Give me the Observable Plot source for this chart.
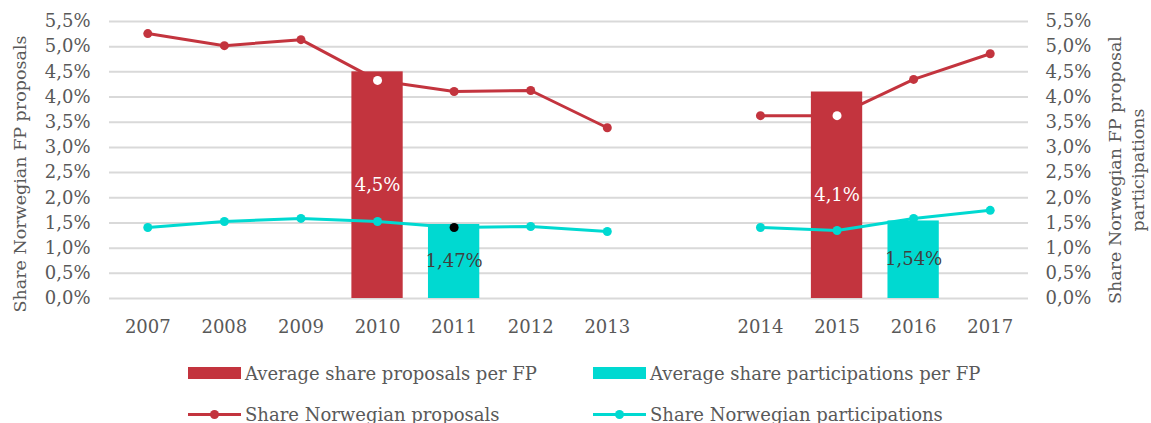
<!DOCTYPE html>
<html>
<head>
<meta charset="utf-8">
<script src="https://cdn.jsdelivr.net/npm/d3@7"></script>
<script src="https://cdn.jsdelivr.net/npm/@observablehq/plot@0.6"></script>
<style>
  html, body { margin: 0; padding: 0; background: #fff; }
  #wrap { position: relative; width: 1151px; height: 423px; overflow: hidden; font-family: "DejaVu Serif", serif; }
  #chart { position: absolute; left: 0; top: 0; }
  .lg { position: absolute; height: 24px; display: flex; align-items: center; color: #595959; font-size: 18px; white-space: nowrap; }
  .sw { position: absolute; }
</style>
</head>
<body>
<div id="wrap">
  <div id="chart"></div>
</div>
<script>
// ---- data ----
const slots = ["2007","2008","2009","2010","2011","2012","2013"," ","2014","2015","2016","2017"];
const years = ["2007","2008","2009","2010","2011","2012","2013","2014","2015","2016","2017"];
const period = [1,1,1,1,1,1,1,2,2,2,2];
const shareProposals =      [5.26, 5.02, 5.14, 4.33, 4.11, 4.13, 3.39, 3.63, 3.63, 4.35, 4.86];
const shareParticipations = [1.41, 1.53, 1.59, 1.53, 1.41, 1.43, 1.33, 1.41, 1.35, 1.59, 1.75];
const barYears =  ["2010", "2011", "2015", "2016"];
const barSeries = ["prop", "part", "prop", "part"];
const barValues = [4.5, 1.47, 4.1, 1.54];
const barLabels = ["4,5%", "1,47%", "4,1%", "1,54%"];
const yTicks = [0, 0.5, 1, 1.5, 2, 2.5, 3, 3.5, 4, 4.5, 5, 5.5];
const yTickLabels = ["0,0%","0,5%","1,0%","1,5%","2,0%","2,5%","3,0%","3,5%","4,0%","4,5%","5,0%","5,5%"];
const whiteDotYears = ["2010", "2015"];   // proposals markers shown in white
const blackDotYears = ["2011"];           // participations marker shown in black
const legendItems = ["Average share proposals per FP", "Average share participations per FP",
                     "Share Norwegian proposals", "Share Norwegian participations"];
const titleLeft = "Share Norwegian FP proposals";
const titleRight = ["Share Norwegian FP proposal", "participations"];

// ---- styles ----
const RED = "#c3343e";
const CYAN = "#00d9d1";
const GRID = "#d9d9d9";
const TXT = "#595959";
const FONT = "DejaVu Serif";

const propRows = years.map((y, i) => ({year: y, value: shareProposals[i], period: period[i]}));
const partRows = years.map((y, i) => ({year: y, value: shareParticipations[i], period: period[i]}));
const barRows = barYears.map((y, i) => ({year: y, series: barSeries[i], value: barValues[i], label: barLabels[i]}));
const fmt = v => yTickLabels[yTicks.indexOf(v)];

const chart = Plot.plot({
  width: 1151,
  height: 345,
  marginLeft: 109,
  marginRight: 123,
  marginTop: 21,
  marginBottom: 47,
  style: {fontFamily: FONT, fontSize: "18px", color: TXT, background: "#fff"},
  x: {type: "band", domain: slots, paddingInner: 0.33, paddingOuter: 0.165, round: false},
  y: {domain: [0, 5.5]},
  marks: [
    Plot.ruleY(yTicks, {stroke: GRID, strokeWidth: 2}),
    Plot.axisY({anchor: "left", ticks: yTicks, tickFormat: fmt, tickSize: 0, tickPadding: 19, label: null, fill: TXT}),
    Plot.axisY({anchor: "right", ticks: yTicks, tickFormat: fmt, tickSize: 0, tickPadding: 17, label: null, fill: TXT}),
    Plot.axisX({tickSize: 0, tickPadding: 22, label: null, fill: TXT}),
    // red line behind bars
    Plot.line(propRows, {x: "year", y: "value", z: "period", stroke: RED, strokeWidth: 3}),
    Plot.dot(propRows.filter(d => !whiteDotYears.includes(d.year)), {x: "year", y: "value", r: 4.5, fill: RED}),
    // bars
    Plot.barY(barRows, {x: "year", y: "value", fill: d => d.series === "prop" ? RED : CYAN}),
    // cyan line in front
    Plot.line(partRows, {x: "year", y: "value", z: "period", stroke: CYAN, strokeWidth: 3}),
    Plot.dot(partRows.filter(d => !blackDotYears.includes(d.year)), {x: "year", y: "value", r: 4.5, fill: CYAN}),
    Plot.dot(partRows.filter(d => blackDotYears.includes(d.year)), {x: "year", y: "value", r: 4.5, fill: "#000"}),
    Plot.dot(propRows.filter(d => whiteDotYears.includes(d.year)), {x: "year", y: "value", r: 4.5, fill: "#fff"}),
    // bar labels
    Plot.text(barRows, {x: "year", y: d => d.value / 2, text: "label",
      fill: d => d.series === "prop" ? "#ffffff" : "#404040", fontSize: 18})
  ]
});
document.getElementById("chart").appendChild(chart);

// axis titles
const svg = d3.select(chart);
svg.append("text")
  .attr("transform", "translate(20,174) rotate(-90)")
  .attr("text-anchor", "middle").attr("dominant-baseline", "central")
  .attr("fill", TXT).style("font-family", FONT).style("font-size", "17.5px")
  .text(titleLeft);
titleRight.forEach((t, i) => {
  svg.append("text")
    .attr("transform", `translate(${1115 + i * 23},170) rotate(-90)`)
    .attr("text-anchor", "middle").attr("dominant-baseline", "central")
    .attr("fill", TXT).style("font-family", FONT).style("font-size", "17.5px")
    .text(t);
});

// legend (HTML)
const wrap = document.getElementById("wrap");
const cols = [188, 593];
const rows = [373, 414];
const colors = [RED, CYAN];
legendItems.forEach((label, i) => {
  const c = i % 2, r = Math.floor(i / 2);
  const x = cols[c], y = rows[r];
  const sw = document.createElement("div");
  sw.className = "sw";
  if (r === 0) {
    Object.assign(sw.style, {left: x + "px", top: (y - 6) + "px", width: "53px", height: "12px", background: colors[c]});
    wrap.appendChild(sw);
  } else {
    Object.assign(sw.style, {left: x + "px", top: (y - 1.5) + "px", width: "53px", height: "3px", background: colors[c]});
    wrap.appendChild(sw);
    const dot = document.createElement("div");
    dot.className = "sw";
    Object.assign(dot.style, {left: (x + 22) + "px", top: (y - 4.5) + "px", width: "9px", height: "9px", borderRadius: "50%", background: colors[c]});
    wrap.appendChild(dot);
  }
  const t = document.createElement("div");
  t.className = "lg";
  t.style.left = (x + 57) + "px";
  t.style.top = (y - 12) + "px";
  t.textContent = label;
  wrap.appendChild(t);
});
</script>
</body>
</html>
